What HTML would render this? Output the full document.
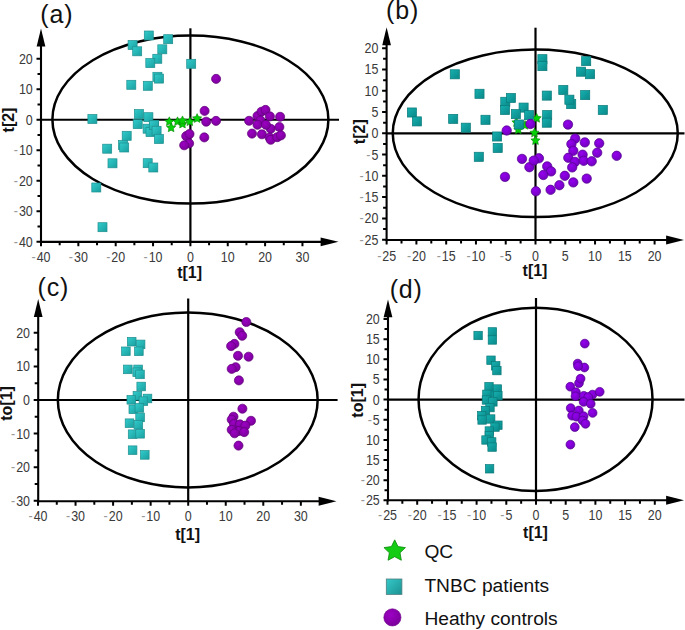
<!DOCTYPE html><html><head><meta charset="utf-8"><style>
html,body{margin:0;padding:0;background:#fff;width:685px;height:630px;overflow:hidden}
svg{display:block}
.tk{font-family:"Liberation Sans",sans-serif;font-size:14px;fill:#3a3a3a}
.ttl{font-family:"Liberation Sans",sans-serif;font-size:16px;font-weight:bold;fill:#111}
.plab{font-family:"Liberation Sans",sans-serif;font-size:25px;letter-spacing:0.8px;fill:#111}
.leg{font-family:"Liberation Sans",sans-serif;font-size:19.2px;fill:#111}
.hy{fill:#999}
</style></head><body>
<svg width="685" height="630" viewBox="0 0 685 630">
<defs>
<linearGradient id="sqA" x1="0" y1="0" x2="1" y2="1"><stop offset="0" stop-color="#33cccc"/><stop offset="1" stop-color="#1a9f9f"/></linearGradient>
<linearGradient id="sqB" x1="0" y1="0" x2="1" y2="1"><stop offset="0" stop-color="#16b0b0"/><stop offset="1" stop-color="#0a8888"/></linearGradient>
<radialGradient id="cA" cx="0.4" cy="0.35" r="0.7"><stop offset="0" stop-color="#9c00c4"/><stop offset="1" stop-color="#7a0098"/></radialGradient>
<radialGradient id="cB" cx="0.4" cy="0.35" r="0.7"><stop offset="0" stop-color="#9400ee"/><stop offset="1" stop-color="#7000bc"/></radialGradient>
<linearGradient id="sqL" x1="0" y1="0" x2="1" y2="1"><stop offset="0" stop-color="#36c9c9"/><stop offset="1" stop-color="#1b9191"/></linearGradient>
</defs>
<rect width="685" height="630" fill="#fff"/>
<line x1="190.4" y1="28.3" x2="190.4" y2="241.85" stroke="#000" stroke-width="2.2"/>
<line x1="41" y1="119.75" x2="339" y2="119.75" stroke="#000" stroke-width="2.2"/>
<ellipse cx="190.4" cy="119.6" rx="138" ry="84" fill="none" stroke="#000" stroke-width="2.5"/>
<line x1="41" y1="242.95" x2="41" y2="38.5" stroke="#000" stroke-width="2.1"/>
<line x1="39.9" y1="241.85" x2="328.5" y2="241.85" stroke="#000" stroke-width="2.1"/>
<path d="M41,28.5 L36.65,46.4 L45.35,46.4 Z" fill="#000"/>
<path d="M338.5,241.85 L320.6,237.4 L320.6,246.3 Z" fill="#000"/>
<path d="M41,241.85 v4.5 M59.68,241.85 v3.5 M78.35,241.85 v4.5 M97.03,241.85 v3.5 M115.7,241.85 v4.5 M134.38,241.85 v3.5 M153.05,241.85 v4.5 M171.72,241.85 v3.5 M190.4,241.85 v4.5 M209.08,241.85 v3.5 M227.75,241.85 v4.5 M246.43,241.85 v3.5 M265.1,241.85 v4.5 M283.77,241.85 v3.5 M302.45,241.85 v4.5 M41,241.83 h-4.5 M41,226.57 h-3.5 M41,211.31 h-4.5 M41,196.05 h-3.5 M41,180.79 h-4.5 M41,165.53 h-3.5 M41,150.27 h-4.5 M41,135.01 h-3.5 M41,119.75 h-4.5 M41,104.49 h-3.5 M41,89.23 h-4.5 M41,73.97 h-3.5 M41,58.71 h-4.5" stroke="#000" stroke-width="2" fill="none"/>
<text transform="translate(41,262.45) scale(0.89,1)" text-anchor="middle" class="tk"><tspan class="hy">-</tspan><tspan dx="1.1">40</tspan></text>
<text transform="translate(78.35,262.45) scale(0.89,1)" text-anchor="middle" class="tk"><tspan class="hy">-</tspan><tspan dx="1.1">30</tspan></text>
<text transform="translate(115.7,262.45) scale(0.89,1)" text-anchor="middle" class="tk"><tspan class="hy">-</tspan><tspan dx="1.1">20</tspan></text>
<text transform="translate(153.05,262.45) scale(0.89,1)" text-anchor="middle" class="tk"><tspan class="hy">-</tspan><tspan dx="1.1">10</tspan></text>
<text transform="translate(190.4,262.45) scale(0.89,1)" text-anchor="middle" class="tk">0</text>
<text transform="translate(227.75,262.45) scale(0.89,1)" text-anchor="middle" class="tk">10</text>
<text transform="translate(265.1,262.45) scale(0.89,1)" text-anchor="middle" class="tk">20</text>
<text transform="translate(302.45,262.45) scale(0.89,1)" text-anchor="middle" class="tk">30</text>
<text transform="translate(32.8,246.83) scale(0.89,1)" text-anchor="end" class="tk"><tspan class="hy">-</tspan><tspan dx="1.1">40</tspan></text>
<text transform="translate(32.8,216.31) scale(0.89,1)" text-anchor="end" class="tk"><tspan class="hy">-</tspan><tspan dx="1.1">30</tspan></text>
<text transform="translate(32.8,185.79) scale(0.89,1)" text-anchor="end" class="tk"><tspan class="hy">-</tspan><tspan dx="1.1">20</tspan></text>
<text transform="translate(32.8,155.27) scale(0.89,1)" text-anchor="end" class="tk"><tspan class="hy">-</tspan><tspan dx="1.1">10</tspan></text>
<text transform="translate(32.8,124.75) scale(0.89,1)" text-anchor="end" class="tk">0</text>
<text transform="translate(32.8,94.23) scale(0.89,1)" text-anchor="end" class="tk">10</text>
<text transform="translate(32.8,63.71) scale(0.89,1)" text-anchor="end" class="tk">20</text>
<text x="189.6" y="277.5" text-anchor="middle" class="ttl">t[1]</text>
<text transform="translate(13.6,120) rotate(-90)" text-anchor="middle" class="ttl">t[2]</text>
<text x="40.3" y="23.2" class="plab">(a)</text>
<path d="M169.3,116.85 L170.71,119.76 L173.91,120.2 L171.58,122.44 L172.15,125.62 L169.3,124.1 L166.45,125.62 L167.02,122.44 L164.69,120.2 L167.89,119.76Z" fill="#06d006" stroke="#078507" stroke-width="0.6"/>
<path d="M171.1,122.95 L172.51,125.86 L175.71,126.3 L173.38,128.54 L173.95,131.72 L171.1,130.2 L168.25,131.72 L168.82,128.54 L166.49,126.3 L169.69,125.86Z" fill="#06d006" stroke="#078507" stroke-width="0.6"/>
<path d="M177.5,116.85 L178.91,119.76 L182.11,120.2 L179.78,122.44 L180.35,125.62 L177.5,124.1 L174.65,125.62 L175.22,122.44 L172.89,120.2 L176.09,119.76Z" fill="#06d006" stroke="#078507" stroke-width="0.6"/>
<path d="M182.5,119.15 L183.91,122.06 L187.11,122.5 L184.78,124.74 L185.35,127.92 L182.5,126.4 L179.65,127.92 L180.22,124.74 L177.89,122.5 L181.09,122.06Z" fill="#06d006" stroke="#078507" stroke-width="0.6"/>
<path d="M182.5,115.95 L183.91,118.86 L187.11,119.3 L184.78,121.54 L185.35,124.72 L182.5,123.2 L179.65,124.72 L180.22,121.54 L177.89,119.3 L181.09,118.86Z" fill="#06d006" stroke="#078507" stroke-width="0.6"/>
<path d="M189.8,116.85 L191.21,119.76 L194.41,120.2 L192.08,122.44 L192.65,125.62 L189.8,124.1 L186.95,125.62 L187.52,122.44 L185.19,120.2 L188.39,119.76Z" fill="#06d006" stroke="#078507" stroke-width="0.6"/>
<path d="M197.1,113.65 L198.51,116.56 L201.71,117 L199.38,119.24 L199.95,122.42 L197.1,120.9 L194.25,122.42 L194.82,119.24 L192.49,117 L195.69,116.56Z" fill="#06d006" stroke="#078507" stroke-width="0.6"/>
<rect x="144.3" y="31" width="9" height="9" fill="url(#sqA)" stroke="#1f8f8f" stroke-width="0.7"/>
<rect x="163.7" y="34.7" width="9" height="9" fill="url(#sqA)" stroke="#1f8f8f" stroke-width="0.7"/>
<rect x="128.1" y="40.5" width="9" height="9" fill="url(#sqA)" stroke="#1f8f8f" stroke-width="0.7"/>
<rect x="132.7" y="46.8" width="9" height="9" fill="url(#sqA)" stroke="#1f8f8f" stroke-width="0.7"/>
<rect x="157.8" y="44.8" width="9" height="9" fill="url(#sqA)" stroke="#1f8f8f" stroke-width="0.7"/>
<rect x="152.8" y="54.3" width="9" height="9" fill="url(#sqA)" stroke="#1f8f8f" stroke-width="0.7"/>
<rect x="145.8" y="58.6" width="9" height="9" fill="url(#sqA)" stroke="#1f8f8f" stroke-width="0.7"/>
<rect x="186.7" y="59.3" width="9" height="9" fill="url(#sqA)" stroke="#1f8f8f" stroke-width="0.7"/>
<rect x="152.9" y="72.3" width="9" height="9" fill="url(#sqA)" stroke="#1f8f8f" stroke-width="0.7"/>
<rect x="154.5" y="74.1" width="9" height="9" fill="url(#sqA)" stroke="#1f8f8f" stroke-width="0.7"/>
<rect x="126.8" y="80.3" width="9" height="9" fill="url(#sqA)" stroke="#1f8f8f" stroke-width="0.7"/>
<rect x="143.3" y="81.3" width="9" height="9" fill="url(#sqA)" stroke="#1f8f8f" stroke-width="0.7"/>
<rect x="87.9" y="114.5" width="9" height="9" fill="url(#sqA)" stroke="#1f8f8f" stroke-width="0.7"/>
<rect x="134.4" y="109.6" width="9" height="9" fill="url(#sqA)" stroke="#1f8f8f" stroke-width="0.7"/>
<rect x="143.9" y="112.7" width="9" height="9" fill="url(#sqA)" stroke="#1f8f8f" stroke-width="0.7"/>
<rect x="133.2" y="119.6" width="9" height="9" fill="url(#sqA)" stroke="#1f8f8f" stroke-width="0.7"/>
<rect x="149.7" y="120.4" width="9" height="9" fill="url(#sqA)" stroke="#1f8f8f" stroke-width="0.7"/>
<rect x="143.1" y="124.2" width="9" height="9" fill="url(#sqA)" stroke="#1f8f8f" stroke-width="0.7"/>
<rect x="146" y="127.6" width="9" height="9" fill="url(#sqA)" stroke="#1f8f8f" stroke-width="0.7"/>
<rect x="149.3" y="120.7" width="9" height="9" fill="url(#sqA)" stroke="#1f8f8f" stroke-width="0.7"/>
<rect x="152.1" y="126.3" width="9" height="9" fill="url(#sqA)" stroke="#1f8f8f" stroke-width="0.7"/>
<rect x="154.4" y="134.5" width="9" height="9" fill="url(#sqA)" stroke="#1f8f8f" stroke-width="0.7"/>
<rect x="122.2" y="131.3" width="9" height="9" fill="url(#sqA)" stroke="#1f8f8f" stroke-width="0.7"/>
<rect x="118.5" y="140.5" width="9" height="9" fill="url(#sqA)" stroke="#1f8f8f" stroke-width="0.7"/>
<rect x="119.7" y="143" width="9" height="9" fill="url(#sqA)" stroke="#1f8f8f" stroke-width="0.7"/>
<rect x="102.7" y="144.2" width="9" height="9" fill="url(#sqA)" stroke="#1f8f8f" stroke-width="0.7"/>
<rect x="108" y="158.8" width="9" height="9" fill="url(#sqA)" stroke="#1f8f8f" stroke-width="0.7"/>
<rect x="143.2" y="158.7" width="9" height="9" fill="url(#sqA)" stroke="#1f8f8f" stroke-width="0.7"/>
<rect x="148.8" y="163" width="9" height="9" fill="url(#sqA)" stroke="#1f8f8f" stroke-width="0.7"/>
<rect x="91.8" y="183" width="9" height="9" fill="url(#sqA)" stroke="#1f8f8f" stroke-width="0.7"/>
<rect x="98" y="222.7" width="9" height="9" fill="url(#sqA)" stroke="#1f8f8f" stroke-width="0.7"/>
<circle cx="216.1" cy="78.9" r="4.55" fill="url(#cA)" stroke="#5e0078" stroke-width="0.7"/>
<circle cx="204.6" cy="110.9" r="4.55" fill="url(#cA)" stroke="#5e0078" stroke-width="0.7"/>
<circle cx="206.2" cy="121.7" r="4.55" fill="url(#cA)" stroke="#5e0078" stroke-width="0.7"/>
<circle cx="216" cy="120.9" r="4.55" fill="url(#cA)" stroke="#5e0078" stroke-width="0.7"/>
<circle cx="186.2" cy="136.1" r="4.55" fill="url(#cA)" stroke="#5e0078" stroke-width="0.7"/>
<circle cx="189.5" cy="134" r="4.55" fill="url(#cA)" stroke="#5e0078" stroke-width="0.7"/>
<circle cx="189.1" cy="143.4" r="4.55" fill="url(#cA)" stroke="#5e0078" stroke-width="0.7"/>
<circle cx="184.2" cy="145.3" r="4.55" fill="url(#cA)" stroke="#5e0078" stroke-width="0.7"/>
<circle cx="204.3" cy="137.4" r="4.55" fill="url(#cA)" stroke="#5e0078" stroke-width="0.7"/>
<circle cx="257.5" cy="116" r="4.55" fill="url(#cA)" stroke="#5e0078" stroke-width="0.7"/>
<circle cx="261.5" cy="111.7" r="4.55" fill="url(#cA)" stroke="#5e0078" stroke-width="0.7"/>
<circle cx="265.5" cy="109.9" r="4.55" fill="url(#cA)" stroke="#5e0078" stroke-width="0.7"/>
<circle cx="269.9" cy="116.4" r="4.55" fill="url(#cA)" stroke="#5e0078" stroke-width="0.7"/>
<circle cx="280.1" cy="116.8" r="4.55" fill="url(#cA)" stroke="#5e0078" stroke-width="0.7"/>
<circle cx="249.1" cy="120.8" r="4.55" fill="url(#cA)" stroke="#5e0078" stroke-width="0.7"/>
<circle cx="260.5" cy="120.5" r="4.55" fill="url(#cA)" stroke="#5e0078" stroke-width="0.7"/>
<circle cx="270.7" cy="128.8" r="4.55" fill="url(#cA)" stroke="#5e0078" stroke-width="0.7"/>
<circle cx="257.5" cy="124.8" r="4.55" fill="url(#cA)" stroke="#5e0078" stroke-width="0.7"/>
<circle cx="265.9" cy="124.8" r="4.55" fill="url(#cA)" stroke="#5e0078" stroke-width="0.7"/>
<circle cx="279.4" cy="127" r="4.55" fill="url(#cA)" stroke="#5e0078" stroke-width="0.7"/>
<circle cx="252" cy="133.6" r="4.55" fill="url(#cA)" stroke="#5e0078" stroke-width="0.7"/>
<circle cx="261.9" cy="134.3" r="4.55" fill="url(#cA)" stroke="#5e0078" stroke-width="0.7"/>
<circle cx="269.6" cy="137.6" r="4.55" fill="url(#cA)" stroke="#5e0078" stroke-width="0.7"/>
<circle cx="270.7" cy="139.8" r="4.55" fill="url(#cA)" stroke="#5e0078" stroke-width="0.7"/>
<circle cx="277.2" cy="137.2" r="4.55" fill="url(#cA)" stroke="#5e0078" stroke-width="0.7"/>
<circle cx="280.9" cy="135.4" r="4.55" fill="url(#cA)" stroke="#5e0078" stroke-width="0.7"/>
<line x1="535.5" y1="27.7" x2="535.5" y2="240" stroke="#000" stroke-width="2.2"/>
<line x1="386.6" y1="133.3" x2="684.5" y2="133.3" stroke="#000" stroke-width="2.2"/>
<ellipse cx="535.25" cy="133.3" rx="142.5" ry="83.75" fill="none" stroke="#000" stroke-width="2.5"/>
<line x1="386.6" y1="241.1" x2="386.6" y2="37.3" stroke="#000" stroke-width="2.1"/>
<line x1="385.5" y1="240" x2="674" y2="240" stroke="#000" stroke-width="2.1"/>
<path d="M386.6,27.3 L382.25,45.2 L390.95,45.2 Z" fill="#000"/>
<path d="M684,240 L666.1,235.55 L666.1,244.45 Z" fill="#000"/>
<path d="M386.62,240 v4.5 M401.51,240 v3.5 M416.4,240 v4.5 M431.29,240 v3.5 M446.18,240 v4.5 M461.06,240 v3.5 M475.95,240 v4.5 M490.84,240 v3.5 M505.73,240 v4.5 M520.61,240 v3.5 M535.5,240 v4.5 M550.39,240 v3.5 M565.27,240 v4.5 M580.16,240 v3.5 M595.05,240 v4.5 M609.94,240 v3.5 M624.83,240 v4.5 M639.71,240 v3.5 M654.6,240 v4.5 M386.6,239.65 h-4.5 M386.6,229.01 h-3.5 M386.6,218.38 h-4.5 M386.6,207.75 h-3.5 M386.6,197.11 h-4.5 M386.6,186.48 h-3.5 M386.6,175.84 h-4.5 M386.6,165.21 h-3.5 M386.6,154.57 h-4.5 M386.6,143.94 h-3.5 M386.6,133.3 h-4.5 M386.6,122.67 h-3.5 M386.6,112.03 h-4.5 M386.6,101.4 h-3.5 M386.6,90.76 h-4.5 M386.6,80.13 h-3.5 M386.6,69.49 h-4.5 M386.6,58.86 h-3.5 M386.6,48.22 h-4.5" stroke="#000" stroke-width="2" fill="none"/>
<text transform="translate(386.62,260.6) scale(0.89,1)" text-anchor="middle" class="tk"><tspan class="hy">-</tspan><tspan dx="1.1">25</tspan></text>
<text transform="translate(416.4,260.6) scale(0.89,1)" text-anchor="middle" class="tk"><tspan class="hy">-</tspan><tspan dx="1.1">20</tspan></text>
<text transform="translate(446.18,260.6) scale(0.89,1)" text-anchor="middle" class="tk"><tspan class="hy">-</tspan><tspan dx="1.1">15</tspan></text>
<text transform="translate(475.95,260.6) scale(0.89,1)" text-anchor="middle" class="tk"><tspan class="hy">-</tspan><tspan dx="1.1">10</tspan></text>
<text transform="translate(505.73,260.6) scale(0.89,1)" text-anchor="middle" class="tk"><tspan class="hy">-</tspan><tspan dx="1.1">5</tspan></text>
<text transform="translate(535.5,260.6) scale(0.89,1)" text-anchor="middle" class="tk">0</text>
<text transform="translate(565.27,260.6) scale(0.89,1)" text-anchor="middle" class="tk">5</text>
<text transform="translate(595.05,260.6) scale(0.89,1)" text-anchor="middle" class="tk">10</text>
<text transform="translate(624.83,260.6) scale(0.89,1)" text-anchor="middle" class="tk">15</text>
<text transform="translate(654.6,260.6) scale(0.89,1)" text-anchor="middle" class="tk">20</text>
<text transform="translate(378.4,244.65) scale(0.89,1)" text-anchor="end" class="tk"><tspan class="hy">-</tspan><tspan dx="1.1">25</tspan></text>
<text transform="translate(378.4,223.38) scale(0.89,1)" text-anchor="end" class="tk"><tspan class="hy">-</tspan><tspan dx="1.1">20</tspan></text>
<text transform="translate(378.4,202.11) scale(0.89,1)" text-anchor="end" class="tk"><tspan class="hy">-</tspan><tspan dx="1.1">15</tspan></text>
<text transform="translate(378.4,180.84) scale(0.89,1)" text-anchor="end" class="tk"><tspan class="hy">-</tspan><tspan dx="1.1">10</tspan></text>
<text transform="translate(378.4,159.57) scale(0.89,1)" text-anchor="end" class="tk"><tspan class="hy">-</tspan><tspan dx="1.1">5</tspan></text>
<text transform="translate(378.4,138.3) scale(0.89,1)" text-anchor="end" class="tk">0</text>
<text transform="translate(378.4,117.03) scale(0.89,1)" text-anchor="end" class="tk">5</text>
<text transform="translate(378.4,95.76) scale(0.89,1)" text-anchor="end" class="tk">10</text>
<text transform="translate(378.4,74.49) scale(0.89,1)" text-anchor="end" class="tk">15</text>
<text transform="translate(378.4,53.22) scale(0.89,1)" text-anchor="end" class="tk">20</text>
<text x="535" y="275.5" text-anchor="middle" class="ttl">t[1]</text>
<text transform="translate(364.8,131.7) rotate(-90)" text-anchor="middle" class="ttl">t[2]</text>
<text x="386.1" y="19" class="plab">(b)</text>
<path d="M516.5,117.65 L517.91,120.56 L521.11,121 L518.78,123.24 L519.35,126.42 L516.5,124.9 L513.65,126.42 L514.22,123.24 L511.89,121 L515.09,120.56Z" fill="#06d006" stroke="#078507" stroke-width="0.6"/>
<path d="M518.3,124.95 L519.71,127.86 L522.91,128.3 L520.58,130.54 L521.15,133.72 L518.3,132.2 L515.45,133.72 L516.02,130.54 L513.69,128.3 L516.89,127.86Z" fill="#06d006" stroke="#078507" stroke-width="0.6"/>
<path d="M525,120.45 L526.41,123.36 L529.61,123.8 L527.28,126.04 L527.85,129.22 L525,127.7 L522.15,129.22 L522.72,126.04 L520.39,123.8 L523.59,123.36Z" fill="#06d006" stroke="#078507" stroke-width="0.6"/>
<path d="M536.7,113.45 L538.11,116.36 L541.31,116.8 L538.98,119.04 L539.55,122.22 L536.7,120.7 L533.85,122.22 L534.42,119.04 L532.09,116.8 L535.29,116.36Z" fill="#06d006" stroke="#078507" stroke-width="0.6"/>
<path d="M534.5,128.05 L535.91,130.96 L539.11,131.4 L536.78,133.64 L537.35,136.82 L534.5,135.3 L531.65,136.82 L532.22,133.64 L529.89,131.4 L533.09,130.96Z" fill="#06d006" stroke="#078507" stroke-width="0.6"/>
<path d="M535.5,135.75 L536.91,138.66 L540.11,139.1 L537.78,141.34 L538.35,144.52 L535.5,143 L532.65,144.52 L533.22,141.34 L530.89,139.1 L534.09,138.66Z" fill="#06d006" stroke="#078507" stroke-width="0.6"/>
<rect x="450.25" y="69.75" width="9.1" height="9.1" fill="url(#sqB)" stroke="#0b7a7a" stroke-width="0.7"/>
<rect x="474.95" y="89.25" width="9.1" height="9.1" fill="url(#sqB)" stroke="#0b7a7a" stroke-width="0.7"/>
<rect x="407.35" y="107.95" width="9.1" height="9.1" fill="url(#sqB)" stroke="#0b7a7a" stroke-width="0.7"/>
<rect x="412.35" y="116.85" width="9.1" height="9.1" fill="url(#sqB)" stroke="#0b7a7a" stroke-width="0.7"/>
<rect x="448.65" y="114.35" width="9.1" height="9.1" fill="url(#sqB)" stroke="#0b7a7a" stroke-width="0.7"/>
<rect x="461.25" y="123.15" width="9.1" height="9.1" fill="url(#sqB)" stroke="#0b7a7a" stroke-width="0.7"/>
<rect x="480.95" y="115.25" width="9.1" height="9.1" fill="url(#sqB)" stroke="#0b7a7a" stroke-width="0.7"/>
<rect x="492.55" y="131.95" width="9.1" height="9.1" fill="url(#sqB)" stroke="#0b7a7a" stroke-width="0.7"/>
<rect x="493.15" y="143.45" width="9.1" height="9.1" fill="url(#sqB)" stroke="#0b7a7a" stroke-width="0.7"/>
<rect x="474.25" y="152.25" width="9.1" height="9.1" fill="url(#sqB)" stroke="#0b7a7a" stroke-width="0.7"/>
<rect x="500.75" y="97.25" width="9.1" height="9.1" fill="url(#sqB)" stroke="#0b7a7a" stroke-width="0.7"/>
<rect x="506.35" y="93.45" width="9.1" height="9.1" fill="url(#sqB)" stroke="#0b7a7a" stroke-width="0.7"/>
<rect x="500.45" y="105.45" width="9.1" height="9.1" fill="url(#sqB)" stroke="#0b7a7a" stroke-width="0.7"/>
<rect x="519.05" y="103.05" width="9.1" height="9.1" fill="url(#sqB)" stroke="#0b7a7a" stroke-width="0.7"/>
<rect x="511.35" y="109.55" width="9.1" height="9.1" fill="url(#sqB)" stroke="#0b7a7a" stroke-width="0.7"/>
<rect x="524.55" y="110.55" width="9.1" height="9.1" fill="url(#sqB)" stroke="#0b7a7a" stroke-width="0.7"/>
<rect x="514.55" y="119.95" width="9.1" height="9.1" fill="url(#sqB)" stroke="#0b7a7a" stroke-width="0.7"/>
<rect x="537.85" y="54.65" width="9.1" height="9.1" fill="url(#sqB)" stroke="#0b7a7a" stroke-width="0.7"/>
<rect x="537.85" y="61.55" width="9.1" height="9.1" fill="url(#sqB)" stroke="#0b7a7a" stroke-width="0.7"/>
<rect x="581.65" y="56.55" width="9.1" height="9.1" fill="url(#sqB)" stroke="#0b7a7a" stroke-width="0.7"/>
<rect x="576.55" y="67.15" width="9.1" height="9.1" fill="url(#sqB)" stroke="#0b7a7a" stroke-width="0.7"/>
<rect x="585.55" y="69.65" width="9.1" height="9.1" fill="url(#sqB)" stroke="#0b7a7a" stroke-width="0.7"/>
<rect x="542.25" y="91.05" width="9.1" height="9.1" fill="url(#sqB)" stroke="#0b7a7a" stroke-width="0.7"/>
<rect x="558.75" y="85.45" width="9.1" height="9.1" fill="url(#sqB)" stroke="#0b7a7a" stroke-width="0.7"/>
<rect x="566.65" y="99.55" width="9.1" height="9.1" fill="url(#sqB)" stroke="#0b7a7a" stroke-width="0.7"/>
<rect x="564.85" y="95.15" width="9.1" height="9.1" fill="url(#sqB)" stroke="#0b7a7a" stroke-width="0.7"/>
<rect x="580.65" y="90.55" width="9.1" height="9.1" fill="url(#sqB)" stroke="#0b7a7a" stroke-width="0.7"/>
<rect x="598.25" y="105.45" width="9.1" height="9.1" fill="url(#sqB)" stroke="#0b7a7a" stroke-width="0.7"/>
<rect x="542.65" y="110.55" width="9.1" height="9.1" fill="url(#sqB)" stroke="#0b7a7a" stroke-width="0.7"/>
<rect x="542.25" y="118.15" width="9.1" height="9.1" fill="url(#sqB)" stroke="#0b7a7a" stroke-width="0.7"/>
<circle cx="530.4" cy="124" r="4.7" fill="url(#cB)" stroke="#52008c" stroke-width="0.7"/>
<circle cx="506.7" cy="130.5" r="4.7" fill="url(#cB)" stroke="#52008c" stroke-width="0.7"/>
<circle cx="568" cy="124.6" r="4.7" fill="url(#cB)" stroke="#52008c" stroke-width="0.7"/>
<circle cx="575.2" cy="138.6" r="4.7" fill="url(#cB)" stroke="#52008c" stroke-width="0.7"/>
<circle cx="571.4" cy="144.1" r="4.7" fill="url(#cB)" stroke="#52008c" stroke-width="0.7"/>
<circle cx="584.8" cy="142.4" r="4.7" fill="url(#cB)" stroke="#52008c" stroke-width="0.7"/>
<circle cx="599.2" cy="143.3" r="4.7" fill="url(#cB)" stroke="#52008c" stroke-width="0.7"/>
<circle cx="573.3" cy="150.8" r="4.7" fill="url(#cB)" stroke="#52008c" stroke-width="0.7"/>
<circle cx="568.3" cy="157.8" r="4.7" fill="url(#cB)" stroke="#52008c" stroke-width="0.7"/>
<circle cx="575" cy="161.9" r="4.7" fill="url(#cB)" stroke="#52008c" stroke-width="0.7"/>
<circle cx="582.6" cy="154.7" r="4.7" fill="url(#cB)" stroke="#52008c" stroke-width="0.7"/>
<circle cx="583.7" cy="160.8" r="4.7" fill="url(#cB)" stroke="#52008c" stroke-width="0.7"/>
<circle cx="591.7" cy="161.3" r="4.7" fill="url(#cB)" stroke="#52008c" stroke-width="0.7"/>
<circle cx="597.2" cy="152.7" r="4.7" fill="url(#cB)" stroke="#52008c" stroke-width="0.7"/>
<circle cx="616.7" cy="155.8" r="4.7" fill="url(#cB)" stroke="#52008c" stroke-width="0.7"/>
<circle cx="572.2" cy="167.4" r="4.7" fill="url(#cB)" stroke="#52008c" stroke-width="0.7"/>
<circle cx="564.8" cy="175.8" r="4.7" fill="url(#cB)" stroke="#52008c" stroke-width="0.7"/>
<circle cx="573.3" cy="182.4" r="4.7" fill="url(#cB)" stroke="#52008c" stroke-width="0.7"/>
<circle cx="586.7" cy="178.6" r="4.7" fill="url(#cB)" stroke="#52008c" stroke-width="0.7"/>
<circle cx="559.4" cy="185.2" r="4.7" fill="url(#cB)" stroke="#52008c" stroke-width="0.7"/>
<circle cx="522" cy="158.9" r="4.7" fill="url(#cB)" stroke="#52008c" stroke-width="0.7"/>
<circle cx="538.9" cy="158.3" r="4.7" fill="url(#cB)" stroke="#52008c" stroke-width="0.7"/>
<circle cx="529.4" cy="167.2" r="4.7" fill="url(#cB)" stroke="#52008c" stroke-width="0.7"/>
<circle cx="533.7" cy="160.6" r="4.7" fill="url(#cB)" stroke="#52008c" stroke-width="0.7"/>
<circle cx="547.2" cy="166.4" r="4.7" fill="url(#cB)" stroke="#52008c" stroke-width="0.7"/>
<circle cx="551.1" cy="171.4" r="4.7" fill="url(#cB)" stroke="#52008c" stroke-width="0.7"/>
<circle cx="543.3" cy="175" r="4.7" fill="url(#cB)" stroke="#52008c" stroke-width="0.7"/>
<circle cx="505" cy="176.9" r="4.7" fill="url(#cB)" stroke="#52008c" stroke-width="0.7"/>
<circle cx="535.9" cy="191.3" r="4.7" fill="url(#cB)" stroke="#52008c" stroke-width="0.7"/>
<circle cx="550.6" cy="189.8" r="4.7" fill="url(#cB)" stroke="#52008c" stroke-width="0.7"/>
<line x1="188.2" y1="298.5" x2="188.2" y2="501.3" stroke="#000" stroke-width="2.2"/>
<line x1="38.2" y1="400" x2="337.6" y2="400" stroke="#000" stroke-width="2.2"/>
<ellipse cx="187.75" cy="400" rx="129.9" ry="87.4" fill="none" stroke="#000" stroke-width="2.5"/>
<line x1="38.2" y1="502.4" x2="38.2" y2="309" stroke="#000" stroke-width="2.1"/>
<line x1="37.1" y1="501.3" x2="326.5" y2="501.3" stroke="#000" stroke-width="2.1"/>
<path d="M38.2,299 L33.85,316.9 L42.55,316.9 Z" fill="#000"/>
<path d="M336.5,501.3 L318.6,496.85 L318.6,505.75 Z" fill="#000"/>
<path d="M38,501.3 v4.5 M56.78,501.3 v3.5 M75.55,501.3 v4.5 M94.32,501.3 v3.5 M113.1,501.3 v4.5 M131.88,501.3 v3.5 M150.65,501.3 v4.5 M169.42,501.3 v3.5 M188.2,501.3 v4.5 M206.97,501.3 v3.5 M225.75,501.3 v4.5 M244.52,501.3 v3.5 M263.3,501.3 v4.5 M282.07,501.3 v3.5 M300.85,501.3 v4.5 M38.2,500.8 h-4.5 M38.2,484 h-3.5 M38.2,467.2 h-4.5 M38.2,450.4 h-3.5 M38.2,433.6 h-4.5 M38.2,416.8 h-3.5 M38.2,400 h-4.5 M38.2,383.2 h-3.5 M38.2,366.4 h-4.5 M38.2,349.6 h-3.5 M38.2,332.8 h-4.5" stroke="#000" stroke-width="2" fill="none"/>
<text transform="translate(38,521.3) scale(0.89,1)" text-anchor="middle" class="tk"><tspan class="hy">-</tspan><tspan dx="1.1">40</tspan></text>
<text transform="translate(75.55,521.3) scale(0.89,1)" text-anchor="middle" class="tk"><tspan class="hy">-</tspan><tspan dx="1.1">30</tspan></text>
<text transform="translate(113.1,521.3) scale(0.89,1)" text-anchor="middle" class="tk"><tspan class="hy">-</tspan><tspan dx="1.1">20</tspan></text>
<text transform="translate(150.65,521.3) scale(0.89,1)" text-anchor="middle" class="tk"><tspan class="hy">-</tspan><tspan dx="1.1">10</tspan></text>
<text transform="translate(188.2,521.3) scale(0.89,1)" text-anchor="middle" class="tk">0</text>
<text transform="translate(225.75,521.3) scale(0.89,1)" text-anchor="middle" class="tk">10</text>
<text transform="translate(263.3,521.3) scale(0.89,1)" text-anchor="middle" class="tk">20</text>
<text transform="translate(300.85,521.3) scale(0.89,1)" text-anchor="middle" class="tk">30</text>
<text transform="translate(30,505.8) scale(0.89,1)" text-anchor="end" class="tk"><tspan class="hy">-</tspan><tspan dx="1.1">30</tspan></text>
<text transform="translate(30,472.2) scale(0.89,1)" text-anchor="end" class="tk"><tspan class="hy">-</tspan><tspan dx="1.1">20</tspan></text>
<text transform="translate(30,438.6) scale(0.89,1)" text-anchor="end" class="tk"><tspan class="hy">-</tspan><tspan dx="1.1">10</tspan></text>
<text transform="translate(30,405) scale(0.89,1)" text-anchor="end" class="tk">0</text>
<text transform="translate(30,371.4) scale(0.89,1)" text-anchor="end" class="tk">10</text>
<text transform="translate(30,337.8) scale(0.89,1)" text-anchor="end" class="tk">20</text>
<text x="187.6" y="539.8" text-anchor="middle" class="ttl">t[1]</text>
<text transform="translate(12.4,403.4) rotate(-90)" text-anchor="middle" class="ttl">to[1]</text>
<text x="37.5" y="296" class="plab">(c)</text>
<rect x="127.4" y="337.4" width="8.6" height="8.6" fill="url(#sqA)" stroke="#1f8f8f" stroke-width="0.7"/>
<rect x="136.3" y="340.1" width="8.6" height="8.6" fill="url(#sqA)" stroke="#1f8f8f" stroke-width="0.7"/>
<rect x="121.6" y="347" width="8.6" height="8.6" fill="url(#sqA)" stroke="#1f8f8f" stroke-width="0.7"/>
<rect x="134.6" y="347" width="8.6" height="8.6" fill="url(#sqA)" stroke="#1f8f8f" stroke-width="0.7"/>
<rect x="123.5" y="365.1" width="8.6" height="8.6" fill="url(#sqA)" stroke="#1f8f8f" stroke-width="0.7"/>
<rect x="133.8" y="365.1" width="8.6" height="8.6" fill="url(#sqA)" stroke="#1f8f8f" stroke-width="0.7"/>
<rect x="132.9" y="367.9" width="8.6" height="8.6" fill="url(#sqA)" stroke="#1f8f8f" stroke-width="0.7"/>
<rect x="135.7" y="370.1" width="8.6" height="8.6" fill="url(#sqA)" stroke="#1f8f8f" stroke-width="0.7"/>
<rect x="136.9" y="382.2" width="8.6" height="8.6" fill="url(#sqA)" stroke="#1f8f8f" stroke-width="0.7"/>
<rect x="133.1" y="391.5" width="8.6" height="8.6" fill="url(#sqA)" stroke="#1f8f8f" stroke-width="0.7"/>
<rect x="143.2" y="394.2" width="8.6" height="8.6" fill="url(#sqA)" stroke="#1f8f8f" stroke-width="0.7"/>
<rect x="127" y="395.5" width="8.6" height="8.6" fill="url(#sqA)" stroke="#1f8f8f" stroke-width="0.7"/>
<rect x="139.1" y="396.9" width="8.6" height="8.6" fill="url(#sqA)" stroke="#1f8f8f" stroke-width="0.7"/>
<rect x="129" y="405" width="8.6" height="8.6" fill="url(#sqA)" stroke="#1f8f8f" stroke-width="0.7"/>
<rect x="135.1" y="403.6" width="8.6" height="8.6" fill="url(#sqA)" stroke="#1f8f8f" stroke-width="0.7"/>
<rect x="135.8" y="413.1" width="8.6" height="8.6" fill="url(#sqA)" stroke="#1f8f8f" stroke-width="0.7"/>
<rect x="125.2" y="418.9" width="8.6" height="8.6" fill="url(#sqA)" stroke="#1f8f8f" stroke-width="0.7"/>
<rect x="134.1" y="420.5" width="8.6" height="8.6" fill="url(#sqA)" stroke="#1f8f8f" stroke-width="0.7"/>
<rect x="128.3" y="429.9" width="8.6" height="8.6" fill="url(#sqA)" stroke="#1f8f8f" stroke-width="0.7"/>
<rect x="135.8" y="429.5" width="8.6" height="8.6" fill="url(#sqA)" stroke="#1f8f8f" stroke-width="0.7"/>
<rect x="128.3" y="445.9" width="8.6" height="8.6" fill="url(#sqA)" stroke="#1f8f8f" stroke-width="0.7"/>
<rect x="140.5" y="450.6" width="8.6" height="8.6" fill="url(#sqA)" stroke="#1f8f8f" stroke-width="0.7"/>
<circle cx="246.3" cy="322" r="4.55" fill="url(#cA)" stroke="#5e0078" stroke-width="0.7"/>
<circle cx="239.7" cy="332.2" r="4.55" fill="url(#cA)" stroke="#5e0078" stroke-width="0.7"/>
<circle cx="242.2" cy="335.8" r="4.55" fill="url(#cA)" stroke="#5e0078" stroke-width="0.7"/>
<circle cx="234.4" cy="343.9" r="4.55" fill="url(#cA)" stroke="#5e0078" stroke-width="0.7"/>
<circle cx="231.1" cy="346.1" r="4.55" fill="url(#cA)" stroke="#5e0078" stroke-width="0.7"/>
<circle cx="238" cy="355.8" r="4.55" fill="url(#cA)" stroke="#5e0078" stroke-width="0.7"/>
<circle cx="248.6" cy="356.7" r="4.55" fill="url(#cA)" stroke="#5e0078" stroke-width="0.7"/>
<circle cx="235.6" cy="367.2" r="4.55" fill="url(#cA)" stroke="#5e0078" stroke-width="0.7"/>
<circle cx="231.7" cy="368.9" r="4.55" fill="url(#cA)" stroke="#5e0078" stroke-width="0.7"/>
<circle cx="238.9" cy="380.4" r="4.55" fill="url(#cA)" stroke="#5e0078" stroke-width="0.7"/>
<circle cx="242.4" cy="408.7" r="4.55" fill="url(#cA)" stroke="#5e0078" stroke-width="0.7"/>
<circle cx="233.5" cy="416.7" r="4.55" fill="url(#cA)" stroke="#5e0078" stroke-width="0.7"/>
<circle cx="231.7" cy="419.6" r="4.55" fill="url(#cA)" stroke="#5e0078" stroke-width="0.7"/>
<circle cx="251" cy="420.8" r="4.55" fill="url(#cA)" stroke="#5e0078" stroke-width="0.7"/>
<circle cx="234" cy="423.8" r="4.55" fill="url(#cA)" stroke="#5e0078" stroke-width="0.7"/>
<circle cx="240" cy="424.4" r="4.55" fill="url(#cA)" stroke="#5e0078" stroke-width="0.7"/>
<circle cx="245.4" cy="425.6" r="4.55" fill="url(#cA)" stroke="#5e0078" stroke-width="0.7"/>
<circle cx="238.8" cy="431" r="4.55" fill="url(#cA)" stroke="#5e0078" stroke-width="0.7"/>
<circle cx="231.7" cy="429.8" r="4.55" fill="url(#cA)" stroke="#5e0078" stroke-width="0.7"/>
<circle cx="234.6" cy="433.3" r="4.55" fill="url(#cA)" stroke="#5e0078" stroke-width="0.7"/>
<circle cx="244.2" cy="432.1" r="4.55" fill="url(#cA)" stroke="#5e0078" stroke-width="0.7"/>
<circle cx="238.5" cy="445.6" r="4.55" fill="url(#cA)" stroke="#5e0078" stroke-width="0.7"/>
<line x1="536" y1="298" x2="536" y2="500.3" stroke="#000" stroke-width="2.2"/>
<line x1="388" y1="399.6" x2="684.5" y2="399.6" stroke="#000" stroke-width="2.2"/>
<ellipse cx="535.55" cy="399.4" rx="117" ry="91.6" fill="none" stroke="#000" stroke-width="2.5"/>
<line x1="388" y1="501.4" x2="388" y2="309.4" stroke="#000" stroke-width="2.1"/>
<line x1="386.9" y1="500.3" x2="674" y2="500.3" stroke="#000" stroke-width="2.1"/>
<path d="M388,299.4 L383.65,317.3 L392.35,317.3 Z" fill="#000"/>
<path d="M684,500.3 L666.1,495.85 L666.1,504.75 Z" fill="#000"/>
<path d="M387.5,500.3 v4.5 M402.35,500.3 v3.5 M417.2,500.3 v4.5 M432.05,500.3 v3.5 M446.9,500.3 v4.5 M461.75,500.3 v3.5 M476.6,500.3 v4.5 M491.45,500.3 v3.5 M506.3,500.3 v4.5 M521.15,500.3 v3.5 M536,500.3 v4.5 M550.85,500.3 v3.5 M565.7,500.3 v4.5 M580.55,500.3 v3.5 M595.4,500.3 v4.5 M610.25,500.3 v3.5 M625.1,500.3 v4.5 M639.95,500.3 v3.5 M654.8,500.3 v4.5 M388,500.35 h-4.5 M388,490.28 h-3.5 M388,480.2 h-4.5 M388,470.12 h-3.5 M388,460.05 h-4.5 M388,449.98 h-3.5 M388,439.9 h-4.5 M388,429.83 h-3.5 M388,419.75 h-4.5 M388,409.68 h-3.5 M388,399.6 h-4.5 M388,389.53 h-3.5 M388,379.45 h-4.5 M388,369.38 h-3.5 M388,359.3 h-4.5 M388,349.23 h-3.5 M388,339.15 h-4.5 M388,329.08 h-3.5 M388,319 h-4.5" stroke="#000" stroke-width="2" fill="none"/>
<text transform="translate(387.5,519.7) scale(0.89,1)" text-anchor="middle" class="tk"><tspan class="hy">-</tspan><tspan dx="1.1">25</tspan></text>
<text transform="translate(417.2,519.7) scale(0.89,1)" text-anchor="middle" class="tk"><tspan class="hy">-</tspan><tspan dx="1.1">20</tspan></text>
<text transform="translate(446.9,519.7) scale(0.89,1)" text-anchor="middle" class="tk"><tspan class="hy">-</tspan><tspan dx="1.1">15</tspan></text>
<text transform="translate(476.6,519.7) scale(0.89,1)" text-anchor="middle" class="tk"><tspan class="hy">-</tspan><tspan dx="1.1">10</tspan></text>
<text transform="translate(506.3,519.7) scale(0.89,1)" text-anchor="middle" class="tk"><tspan class="hy">-</tspan><tspan dx="1.1">5</tspan></text>
<text transform="translate(536,519.7) scale(0.89,1)" text-anchor="middle" class="tk">0</text>
<text transform="translate(565.7,519.7) scale(0.89,1)" text-anchor="middle" class="tk">5</text>
<text transform="translate(595.4,519.7) scale(0.89,1)" text-anchor="middle" class="tk">10</text>
<text transform="translate(625.1,519.7) scale(0.89,1)" text-anchor="middle" class="tk">15</text>
<text transform="translate(654.8,519.7) scale(0.89,1)" text-anchor="middle" class="tk">20</text>
<text transform="translate(379.8,505.35) scale(0.89,1)" text-anchor="end" class="tk"><tspan class="hy">-</tspan><tspan dx="1.1">25</tspan></text>
<text transform="translate(379.8,485.2) scale(0.89,1)" text-anchor="end" class="tk"><tspan class="hy">-</tspan><tspan dx="1.1">20</tspan></text>
<text transform="translate(379.8,465.05) scale(0.89,1)" text-anchor="end" class="tk">15</text>
<text transform="translate(379.8,444.9) scale(0.89,1)" text-anchor="end" class="tk">10</text>
<text transform="translate(379.8,424.75) scale(0.89,1)" text-anchor="end" class="tk"><tspan class="hy">-</tspan><tspan dx="1.1">5</tspan></text>
<text transform="translate(379.8,404.6) scale(0.89,1)" text-anchor="end" class="tk">0</text>
<text transform="translate(379.8,384.45) scale(0.89,1)" text-anchor="end" class="tk">5</text>
<text transform="translate(379.8,364.3) scale(0.89,1)" text-anchor="end" class="tk">10</text>
<text transform="translate(379.8,344.15) scale(0.89,1)" text-anchor="end" class="tk">15</text>
<text transform="translate(379.8,324) scale(0.89,1)" text-anchor="end" class="tk">20</text>
<text x="535.5" y="537.8" text-anchor="middle" class="ttl">t[1]</text>
<text transform="translate(363.2,400.3) rotate(-90)" text-anchor="middle" class="ttl">to[1]</text>
<text x="389.7" y="297.8" class="plab">(d)</text>
<rect x="473.9" y="331.3" width="8.4" height="8.4" fill="url(#sqB)" stroke="#0b7a7a" stroke-width="0.7"/>
<rect x="488.2" y="327.7" width="8.4" height="8.4" fill="url(#sqB)" stroke="#0b7a7a" stroke-width="0.7"/>
<rect x="488.2" y="335.8" width="8.4" height="8.4" fill="url(#sqB)" stroke="#0b7a7a" stroke-width="0.7"/>
<rect x="486.8" y="356" width="8.4" height="8.4" fill="url(#sqB)" stroke="#0b7a7a" stroke-width="0.7"/>
<rect x="491.5" y="361.6" width="8.4" height="8.4" fill="url(#sqB)" stroke="#0b7a7a" stroke-width="0.7"/>
<rect x="492.7" y="366.4" width="8.4" height="8.4" fill="url(#sqB)" stroke="#0b7a7a" stroke-width="0.7"/>
<rect x="488.1" y="388.8" width="8.4" height="8.4" fill="url(#sqB)" stroke="#0b7a7a" stroke-width="0.7"/>
<rect x="484.8" y="382.5" width="8.4" height="8.4" fill="url(#sqB)" stroke="#0b7a7a" stroke-width="0.7"/>
<rect x="493.2" y="384.8" width="8.4" height="8.4" fill="url(#sqB)" stroke="#0b7a7a" stroke-width="0.7"/>
<rect x="482.7" y="390.1" width="8.4" height="8.4" fill="url(#sqB)" stroke="#0b7a7a" stroke-width="0.7"/>
<rect x="493.7" y="391.5" width="8.4" height="8.4" fill="url(#sqB)" stroke="#0b7a7a" stroke-width="0.7"/>
<rect x="482.2" y="395.8" width="8.4" height="8.4" fill="url(#sqB)" stroke="#0b7a7a" stroke-width="0.7"/>
<rect x="488.7" y="397.7" width="8.4" height="8.4" fill="url(#sqB)" stroke="#0b7a7a" stroke-width="0.7"/>
<rect x="485.8" y="403.4" width="8.4" height="8.4" fill="url(#sqB)" stroke="#0b7a7a" stroke-width="0.7"/>
<rect x="481.3" y="406.3" width="8.4" height="8.4" fill="url(#sqB)" stroke="#0b7a7a" stroke-width="0.7"/>
<rect x="477.5" y="411.5" width="8.4" height="8.4" fill="url(#sqB)" stroke="#0b7a7a" stroke-width="0.7"/>
<rect x="477.9" y="415.8" width="8.4" height="8.4" fill="url(#sqB)" stroke="#0b7a7a" stroke-width="0.7"/>
<rect x="486.5" y="414.8" width="8.4" height="8.4" fill="url(#sqB)" stroke="#0b7a7a" stroke-width="0.7"/>
<rect x="493.7" y="421" width="8.4" height="8.4" fill="url(#sqB)" stroke="#0b7a7a" stroke-width="0.7"/>
<rect x="490.8" y="422.9" width="8.4" height="8.4" fill="url(#sqB)" stroke="#0b7a7a" stroke-width="0.7"/>
<rect x="485.1" y="426.8" width="8.4" height="8.4" fill="url(#sqB)" stroke="#0b7a7a" stroke-width="0.7"/>
<rect x="485.1" y="431.5" width="8.4" height="8.4" fill="url(#sqB)" stroke="#0b7a7a" stroke-width="0.7"/>
<rect x="481.8" y="435.8" width="8.4" height="8.4" fill="url(#sqB)" stroke="#0b7a7a" stroke-width="0.7"/>
<rect x="487.5" y="437.7" width="8.4" height="8.4" fill="url(#sqB)" stroke="#0b7a7a" stroke-width="0.7"/>
<rect x="487.9" y="442.9" width="8.4" height="8.4" fill="url(#sqB)" stroke="#0b7a7a" stroke-width="0.7"/>
<rect x="485.4" y="464.6" width="8.4" height="8.4" fill="url(#sqB)" stroke="#0b7a7a" stroke-width="0.7"/>
<circle cx="584.8" cy="343.6" r="4.4" fill="url(#cB)" stroke="#52008c" stroke-width="0.7"/>
<circle cx="577.7" cy="363.6" r="4.4" fill="url(#cB)" stroke="#52008c" stroke-width="0.7"/>
<circle cx="584.4" cy="367.5" r="4.4" fill="url(#cB)" stroke="#52008c" stroke-width="0.7"/>
<circle cx="578.1" cy="366.2" r="4.4" fill="url(#cB)" stroke="#52008c" stroke-width="0.7"/>
<circle cx="579" cy="383.1" r="4.4" fill="url(#cB)" stroke="#52008c" stroke-width="0.7"/>
<circle cx="580.6" cy="378.7" r="4.4" fill="url(#cB)" stroke="#52008c" stroke-width="0.7"/>
<circle cx="570.3" cy="386.7" r="4.4" fill="url(#cB)" stroke="#52008c" stroke-width="0.7"/>
<circle cx="575.9" cy="392.2" r="4.4" fill="url(#cB)" stroke="#52008c" stroke-width="0.7"/>
<circle cx="575.5" cy="396.2" r="4.4" fill="url(#cB)" stroke="#52008c" stroke-width="0.7"/>
<circle cx="583.8" cy="395.8" r="4.4" fill="url(#cB)" stroke="#52008c" stroke-width="0.7"/>
<circle cx="592.5" cy="394.6" r="4.4" fill="url(#cB)" stroke="#52008c" stroke-width="0.7"/>
<circle cx="599.7" cy="391.8" r="4.4" fill="url(#cB)" stroke="#52008c" stroke-width="0.7"/>
<circle cx="588.2" cy="397" r="4.4" fill="url(#cB)" stroke="#52008c" stroke-width="0.7"/>
<circle cx="583.6" cy="401.9" r="4.4" fill="url(#cB)" stroke="#52008c" stroke-width="0.7"/>
<circle cx="590.7" cy="403.8" r="4.4" fill="url(#cB)" stroke="#52008c" stroke-width="0.7"/>
<circle cx="570.7" cy="408.1" r="4.4" fill="url(#cB)" stroke="#52008c" stroke-width="0.7"/>
<circle cx="578.8" cy="410.5" r="4.4" fill="url(#cB)" stroke="#52008c" stroke-width="0.7"/>
<circle cx="592.6" cy="412.9" r="4.4" fill="url(#cB)" stroke="#52008c" stroke-width="0.7"/>
<circle cx="572.1" cy="415.7" r="4.4" fill="url(#cB)" stroke="#52008c" stroke-width="0.7"/>
<circle cx="576.4" cy="416.7" r="4.4" fill="url(#cB)" stroke="#52008c" stroke-width="0.7"/>
<circle cx="583.6" cy="416.2" r="4.4" fill="url(#cB)" stroke="#52008c" stroke-width="0.7"/>
<circle cx="582.6" cy="420.5" r="4.4" fill="url(#cB)" stroke="#52008c" stroke-width="0.7"/>
<circle cx="585.5" cy="423.8" r="4.4" fill="url(#cB)" stroke="#52008c" stroke-width="0.7"/>
<circle cx="574.8" cy="427.1" r="4.4" fill="url(#cB)" stroke="#52008c" stroke-width="0.7"/>
<circle cx="570.4" cy="444.6" r="4.4" fill="url(#cB)" stroke="#52008c" stroke-width="0.7"/>
<path d="M394.7,539.8 L397.99,546.57 L405.45,547.61 L400.03,552.83 L401.34,560.24 L394.7,556.7 L388.06,560.24 L389.37,552.83 L383.95,547.61 L391.41,546.57Z" fill="#13cc13" stroke="#0a8a0a" stroke-width="0.8"/>
<text x="424.4" y="558.2" class="leg">QC</text>
<rect x="386.3" y="579.0" width="15.6" height="15.4" fill="url(#sqL)" stroke="#4f7f7f" stroke-width="0.8"/>
<text x="424.4" y="591.6" class="leg">TNBC patients</text>
<circle cx="392.4" cy="617.4" r="8.6" fill="url(#cA)" stroke="#6d0088" stroke-width="0.6"/>
<text x="424.4" y="624.5" class="leg">Heathy controls</text>
</svg></body></html>
